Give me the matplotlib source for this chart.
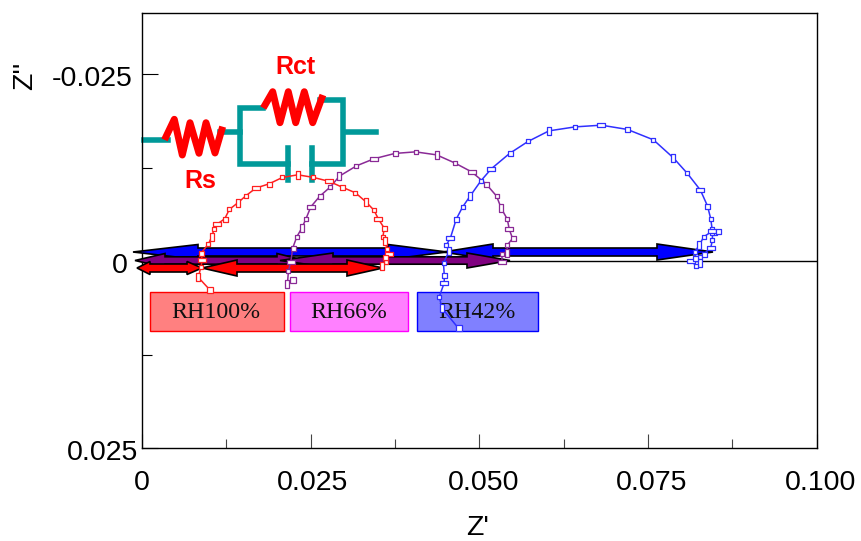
import numpy as np
import matplotlib
matplotlib.use('Agg')
import matplotlib.pyplot as plt
from matplotlib.path import Path
from matplotlib.patches import Polygon, Rectangle
from matplotlib.transforms import Affine2D

# 读图得到的数据，单位 1e-3
red_x = [10.09, 8.35, 8.71, 8.95, 8.71, 9.84, 10.34, 10.68, 11.08, 12.27, 12.95, 14.20, 15.39, 16.87, 18.84,
         20.82, 23.10, 25.42, 27.75, 29.67, 31.65, 33.19, 34.38, 35.06, 35.91, 35.71, 36.10, 36.31, 36.69,
         36.10, 36.20, 35.56]
red_y = [3.88, 2.18, 0.84, -0.13, -1.03, -2.27, -3.25, -4.24, -4.91, -5.66, -6.91, -7.79, -8.73, -9.76, -10.33,
         -11.19, -11.54, -11.19, -10.66, -9.89, -9.13, -7.93, -6.82, -5.61, -4.41, -3.17, -2.71, -1.56, -0.98,
         -0.49, 0.09, 0.67]

purple_x = [22.36, 21.56, 21.71, 22.06, 22.36, 22.95, 23.69, 24.29, 25.03, 26.37, 27.94, 29.27, 31.80, 34.38,
            37.49, 40.55, 43.67, 46.34, 48.86, 51.00, 52.57, 53.26, 54.16, 54.45, 54.94, 54.16, 54.11, 53.37, 53.37]
purple_y = [2.54, 3.07, 1.30, 0.09, -1.78, -3.25, -4.41, -5.61, -7.26, -8.69, -9.93, -11.36, -12.74, -13.68,
            -14.40, -14.61, -14.21, -13.14, -11.94, -10.33, -8.69, -7.05, -5.61, -4.24, -3.03, -2.14, -1.07, -0.94, 0.09]

blue_x = [46.93, 44.47, 44.07, 44.81, 44.81, 44.70, 45.55, 45.10, 45.70, 46.59, 47.52, 48.67, 50.25, 51.78, 54.50,
          57.23, 60.34, 64.20, 68.10, 71.96, 75.82, 78.78, 80.86, 82.79, 83.83, 84.32, 84.57, 84.57, 84.32, 83.28,
          82.69, 82.69, 82.20, 81.41, 82.05, 81.94, 82.64, 83.28, 84.57, 85.46, 84.99]
blue_y = [9.00, 6.28, 4.77, 2.90, 1.87, 0.27, -1.38, -2.14, -3.03, -5.61, -7.22, -8.73, -10.74, -12.34, -14.40,
          -16.00, -17.42, -17.95, -18.18, -17.61, -16.22, -13.81, -11.72, -9.49, -7.39, -5.66, -3.97, -2.81, -1.78,
          -0.94, -0.57, 0.31, 0.63, 0.04, -0.36, -1.24, -2.14, -3.25, -4.01, -4.05, -3.78]

x_major = [0, 0.025, 0.050, 0.075, 0.100]
x_major_labels = ['0', '0.025', '0.050', '0.075', '0.100']
x_minor = [0.0125, 0.0375, 0.0625, 0.0875]
y_major = [-0.025, 0, 0.025]
y_major_labels = ['-0.025', '0', '0.025']
y_minor = [-0.0125, 0.0125]

fig = plt.figure(figsize=(8.61, 5.41), dpi=100)
ax = fig.add_axes([142/861, (541-448)/541, 674.5/861, 435.5/541])
ax.set_xlim(0, 0.1)
ax.set_ylim(0.025, -0.03325)

# 注释部分直接用像素坐标
pix = Affine2D().scale(1, -1).translate(0, 541)
sans = 'Liberation Sans'
serif = 'Liberation Serif'

ax.axhline(0, color='k', lw=1, zorder=1)


# 电路图
teal = '#009999'
circuit = [
    [(144, 140), (168, 140)],
    [(220, 131.7), (240, 131.7)],
    [(263, 108), (240, 108), (240, 164), (288, 164)],
    [(288.3, 148), (288.3, 180)],
    [(311.7, 148), (311.7, 180)],
    [(311.7, 164), (343.3, 164), (343.3, 100), (320, 100)],
    [(345, 131.7), (375.7, 131.7)],
]
for seg in circuit:
    xs, ys = zip(*seg)
    ax.plot(xs, ys, color=teal, lw=4, transform=pix, clip_on=False, zorder=2, solid_joinstyle='miter')
rs_zig = [(166, 136.7), (174.3, 119.3), (182.3, 155), (190, 122.7), (199, 153.3), (206, 122.7), (215, 153), (221.7, 130)]
rct_zig = [(265, 105), (272.7, 91.7), (280, 122.7), (288.3, 91.7), (295.7, 122.7), (304.3, 91.7), (312.7, 122.7), (321.7, 98.3)]
for zig in (rs_zig, rct_zig):
    xs, ys = zip(*zig)
    ax.plot(xs, ys, color='#ff0000', lw=5, transform=pix, clip_on=False, zorder=3, solid_joinstyle='round')
ax.text(295.7, 66.5, 'Rct', color='#ff0000', fontsize=18, fontweight='bold', family=sans,
        ha='center', va='center', transform=pix)
ax.text(200, 180.5, 'Rs', color='#ff0000', fontsize=18, fontweight='bold', family=sans,
        ha='center', va='center', transform=pix)


# 双向箭头：左尖，左底，右底，右尖，中心y，杆半宽，头半宽
def double_arrow(x0, b0, b1, x1, y, hb, hh, color):
    pts = [(x0, y), (b0, y-hh), (b0, y-hb), (b1, y-hb), (b1, y-hh), (x1, y),
           (b1, y+hh), (b1, y+hb), (b0, y+hb), (b0, y+hh)]
    ax.add_patch(Polygon(pts, closed=True, facecolor=color, edgecolor='k', lw=1.2,
                         transform=pix, clip_on=False, zorder=4))


double_arrow(133, 198, 388, 447, 252, 4, 7.5, '#0000ff')
double_arrow(443, 493, 657, 713, 252, 4, 8, '#0000ff')
double_arrow(135, 165, 277, 305, 260.5, 3.7, 7, '#800080')
double_arrow(280, 333, 467, 510, 260.5, 3.7, 7.5, '#800080')
double_arrow(137, 150, 187, 202, 268, 4, 6.5, '#ff0000')
double_arrow(202, 237, 347, 383, 268, 4, 8, '#ff0000')

# 图例方块
boxes = [(150, 284, '#ff8080', '#ff0000', 'RH100%', 215.8),
         (290, 408, '#ff80ff', '#ff00ff', 'RH66%', 348.5),
         (417, 538, '#8080ff', '#0000ff', 'RH42%', 477)]
for x0, x1, fc, ec, txt, xc in boxes:
    ax.add_patch(Rectangle((x0, 292), x1-x0, 39, facecolor=fc, edgecolor=ec, lw=1,
                           transform=pix, clip_on=False, zorder=2))
    ax.text(xc, 312, txt, family=serif, fontsize=17.2, color='#111111', ha='center', va='center',
            transform=pix, zorder=3)


def rect(w, h):
    return Path([(-w/2, -h/2), (w/2, -h/2), (w/2, h/2), (-w/2, h/2), (-w/2, -h/2)], closed=True)


# 数据点的小方块大小不一，这里循环用几种
shapes = [(rect(1, .8), 3.4), (rect(.5, 1), 5.4), (rect(1, .8), 3.1), (rect(1, .5), 5.4), (rect(1, 1), 3.6)]


def curve(xv, yv, color):
    xv = np.array(xv)*1e-3
    yv = np.array(yv)*1e-3
    ax.plot(xv, yv, color=color, lw=1.1, zorder=5, clip_on=False)
    for i, (mk, ms) in enumerate(shapes):
        ax.plot(xv[i::len(shapes)], yv[i::len(shapes)], ls='none', marker=mk, ms=ms, mfc='white',
                mec=color, mew=0.9, zorder=6, clip_on=False)
    # 起点的大方块
    ax.plot(xv[:1], yv[:1], ls='none', marker='s', ms=4.4, mfc='white', mec=color, mew=0.9, zorder=6)


curve(red_x, red_y, '#ff2020')
curve(purple_x, purple_y, '#8a2a96')
curve(blue_x, blue_y, '#3030ff')

# 坐标轴
for s in ax.spines.values():
    s.set_linewidth(1)
ax.set_xticks(x_major)
ax.set_xticklabels([])
ax.set_xticks(x_minor, minor=True)
ax.set_yticks(y_major)
ax.set_yticklabels([])
ax.set_yticks(y_minor, minor=True)
ax.tick_params(axis='x', which='major', direction='in', length=10, width=0.8, color='#444444')
ax.tick_params(axis='x', which='minor', direction='in', length=6.5, width=0.8, color='#444444')
ax.tick_params(axis='y', which='major', direction='in', length=11.5, width=0.8)
ax.tick_params(axis='y', which='minor', direction='in', length=7, width=0.8)

# 刻度文字的偏移各不一样，用像素偏移放
x_dx = [0, 2, 4, 4, 4.5]
for val, txt, dx in zip(x_major, x_major_labels, x_dx):
    ax.annotate(txt, xy=(val, 0), xycoords=('data', 'axes fraction'), xytext=(dx, -35), textcoords='offset pixels',
                family=sans, fontsize=20.5, ha='center', va='center', annotation_clip=False)
y_off = [(-9.5, -5), (-14, -5), (-4, -5.5)]
for val, txt, (dx, dy) in zip(y_major, y_major_labels, y_off):
    ax.annotate(txt, xy=(0, val), xycoords=('axes fraction', 'data'), xytext=(dx, dy), textcoords='offset pixels',
                family=sans, fontsize=20.5, ha='right', va='center', annotation_clip=False)

fig.text(478/861, 1-528/541, "Z'", family=sans, fontsize=20.5, ha='center', va='center')
fig.text(25/861, 1-76/541, "Z''", family=sans, fontsize=20.5, ha='center', va='center', rotation=90)

fig.savefig('out.png', dpi=100)
